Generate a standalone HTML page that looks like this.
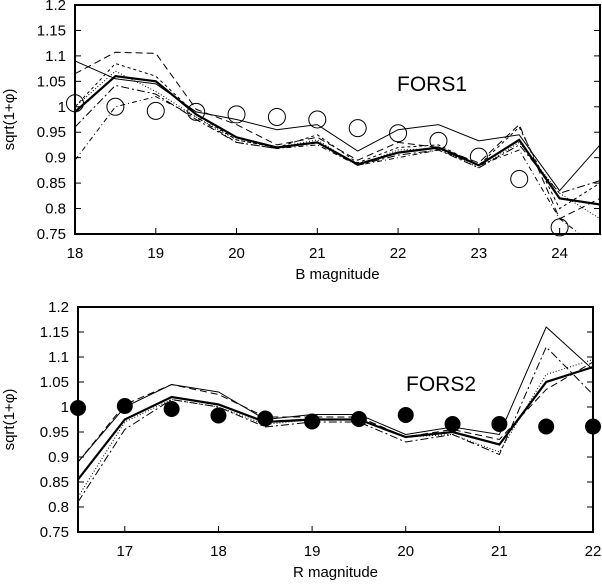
<!DOCTYPE html>
<html><head><meta charset="utf-8"><style>
body{margin:0;background:#fff}
svg text{font-family:"Liberation Sans",sans-serif;fill:#000}
</style></head><body>
<svg id="c" width="602" height="582"></svg>
<script>
const topX=[18,18.5,19,19.5,20,20.5,21,21.5,22,22.5,23,23.5,24,24.5];
const topThick=[0.99,1.06,1.05,0.985,0.94,0.92,0.93,0.887,0.91,0.92,0.885,0.935,0.82,0.808];
const topThin=[1.09,1.055,1.045,0.99,0.975,0.955,0.965,0.913,0.955,0.965,0.933,0.945,0.835,0.925];
const topDash=[1.065,1.107,1.105,0.995,0.965,0.925,0.94,0.895,0.93,0.92,0.89,0.965,0.78,0.82];
const topShort=[1.0,1.085,1.06,0.985,0.935,0.92,0.945,0.89,0.92,0.925,0.885,0.96,0.80,0.85];
const topDot=[1.0,1.07,1.03,0.98,0.935,0.92,0.935,0.885,0.915,0.918,0.88,0.93,0.83,0.78];
const topDashDot=[0.96,1.042,1.025,0.975,0.93,0.918,0.93,0.885,0.905,0.915,0.88,0.925,0.83,0.855];
const topDashDot2=[0.895,1.0,1.02,0.98,0.93,0.918,0.925,0.885,0.90,0.915,0.885,0.915,0.78,0.72];
const topCircleX=[18,18.5,19,19.5,20,20.5,21,21.5,22,22.5,23,23.5,24];
const topCircles=[1.007,1.0,0.992,0.99,0.985,0.98,0.975,0.958,0.948,0.933,0.902,0.858,0.763];
const topXTicks=[18,19,20,21,22,23,24];
const botX=[16.5,17,17.5,18,18.5,19,19.5,20,20.5,21,21.5,22];
const botThick=[0.855,0.975,1.02,1.005,0.97,0.975,0.975,0.94,0.95,0.925,1.05,1.08];
const botThin=[0.89,1.0,1.045,1.03,0.975,0.985,0.985,0.945,0.96,0.945,1.16,1.075];
const botDash=[0.89,1.005,1.045,1.025,0.98,0.98,0.98,0.94,0.955,0.935,1.035,1.09];
const botDot=[0.82,0.97,1.015,1.0,0.965,0.975,0.975,0.94,0.945,0.91,1.065,1.095];
const botDashDot=[0.81,0.955,1.015,1.0,0.96,0.97,0.97,0.93,0.945,0.905,1.12,1.025];
const botDots=[0.998,1.002,0.996,0.983,0.977,0.971,0.976,0.984,0.966,0.966,0.961,0.961];
const botXTicks=[17,18,19,20,21,22];
const yTicks=[0.75,0.8,0.85,0.9,0.95,1,1.05,1.1,1.15,1.2];

const svg=document.getElementById('c');
const NS='http://www.w3.org/2000/svg';
function mk(t,a,p){const e=document.createElementNS(NS,t);for(const k in a)e.setAttribute(k,a[k]);(p||svg).appendChild(e);return e;}

function panel(cfg){
  const {L,R,T,B,x0,x1,id}=cfg;
  const sx=v=>L+(v-x0)/(x1-x0)*(R-L);
  const sy=v=>B-(v-0.75)/(0.45)*(B-T);
  const g=mk('g',{});
  
  
  const cp=mk('clipPath',{id:id+'clip'},g);mk('rect',{x:L,y:T,width:R-L,height:B-T},cp);
  yTicks.forEach(v=>{
    const y=sy(v);
    if(v>0.75&&v<1.2){mk('line',{x1:L,x2:L+6,y1:y,y2:y,stroke:'#000'},g);mk('line',{x1:R,x2:R-6,y1:y,y2:y,stroke:'#000'},g);}
    const t=mk('text',{x:L-9,y:y+5,'text-anchor':'end','font-size':15},g);t.textContent=String(v);
    
    
  });
  cfg.xticks.forEach(v=>{
    const x=sx(v);
    mk('line',{x1:x,x2:x,y1:B,y2:B-6,stroke:'#000'},g);
    const t=mk('text',{x:x,y:B+24,'text-anchor':'middle','font-size':15},g);t.textContent=String(v);
    
    
  });
  const lg=mk('g',{'clip-path':'url(#'+id+'clip)'},g);
  cfg.series.forEach(s=>{
    const d=s.y.map((v,i)=>(i?'L':'M')+sx(cfg.xs[i]).toFixed(1)+' '+sy(v).toFixed(1)).join(' ');
    const p=mk('path',{d:d,fill:'none',stroke:'#000','stroke-width':s.w,'stroke-dasharray':s.da||'none'},lg);
    
    
  });
  cfg.mk.y.forEach((v,i)=>{
    const c=mk('circle',{cx:sx(cfg.mk.x[i]),cy:sy(v),r:cfg.mk.r,fill:cfg.mk.fill,stroke:'#000','stroke-width':1},g);
    
    
  });
  const fr=mk('rect',{x:L,y:T,width:R-L,height:B-T,fill:'none',stroke:'#000','stroke-width':2},g);
  
  
  const lab=mk('text',{x:cfg.lx,y:cfg.ly,'font-size':21},g);lab.textContent=cfg.label;
  
  
  const xt=mk('text',{x:(L+R)/2,y:B+45,'text-anchor':'middle','font-size':15},g);xt.textContent=cfg.xtitle;
  
  
  const yt=mk('text',{x:0,y:0,'text-anchor':'middle','font-size':15,transform:'translate(14,'+((T+B)/2)+') rotate(-90)'},g);yt.textContent='sqrt(1+φ)';
  
  
}
panel({id:'top',L:75,R:600,T:5,B:234,x0:18,x1:24.5,xs:topX,xticks:topXTicks,label:'FORS1',lx:397,ly:91,xtitle:'B magnitude',
 series:[{n:'thin-solid',y:topThin,w:1},{n:'long-dash',y:topDash,w:1,da:'7,4'},{n:'short-dash',y:topShort,w:1,da:'3,3'},{n:'dotted',y:topDot,w:1,da:'1,2'},{n:'dash-dot',y:topDashDot,w:1,da:'8,3,2,3'},{n:'dash-dot-dot',y:topDashDot2,w:1,da:'5,3,1,3'},{n:'thick-solid',y:topThick,w:2.2}],
 mk:{x:topCircleX,y:topCircles,r:8.5,fill:'none'}});
panel({id:'bot',L:78,R:593,T:307,B:532,x0:16.5,x1:22,xs:botX,xticks:botXTicks,label:'FORS2',lx:406,ly:391,xtitle:'R magnitude',
 series:[{n:'thin-solid',y:botThin,w:1},{n:'long-dash',y:botDash,w:1,da:'7,4'},{n:'dotted',y:botDot,w:1,da:'1,2'},{n:'dash-dot',y:botDashDot,w:1,da:'8,3,2,3'},{n:'thick-solid',y:botThick,w:2.2}],
 mk:{x:botX,y:botDots,r:7.5,fill:'#000'}});
</script>
</body></html>
